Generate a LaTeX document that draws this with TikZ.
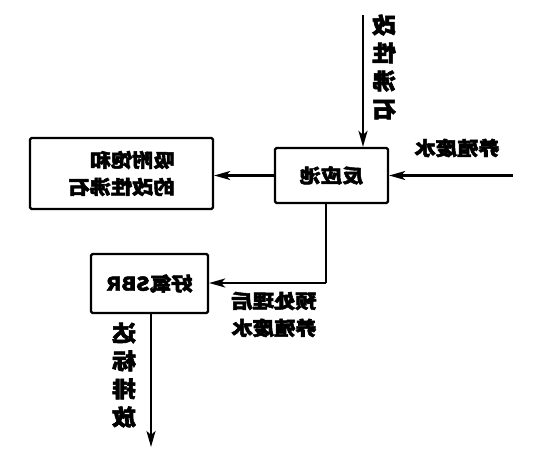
\documentclass[tikz,border=0pt]{standalone}
\usepackage{graphicx}
\usepackage{fontspec}
\newfontfamily\cjk[FakeBold=2.5]{Noto Sans CJK SC}
\usetikzlibrary{arrows.meta}
\newcommand{\mir}[1]{\scalebox{-1.12}[1]{#1}}
\newcommand{\mirv}[1]{\scalebox{-1.08}[1]{#1}}
\tikzset{
  box/.style={draw, line width=2.3pt, rounded corners=1.5pt, inner sep=0pt},
  arr/.style={line width=2.3pt, -{Stealth[length=16pt,width=9pt,inset=4pt]}},
  ln/.style={line width=2.3pt},
  lbl/.style={font=\cjk\bfseries\fontsize{19}{27}\selectfont, inner sep=0pt},
  vlbl/.style={font=\cjk\bfseries\fontsize{22}{28}\selectfont, inner sep=0pt, align=center},
}
\begin{document}
\begin{tikzpicture}[x=1pt,y=-1pt]
\useasboundingbox (0,0) rectangle (541,455);
\node[box, minimum width=113pt, minimum height=55pt, lbl] (react) at (331.5,175.5) {\mir{反应池}};
\node[box, minimum width=183pt, minimum height=71pt, lbl, align=right] (sat) at (121.5,173.5) {\mir{吸附饱和}\\\mir{的改性沸石}};
\node[box, minimum width=117pt, minimum height=59pt, lbl] (sbr) at (149.5,283.5) {\mir{好氧SBR}};
\coordinate (topin) at (363,15);
\coordinate (wastein) at (513,175.5);
\coordinate (turn) at (326,283);
\coordinate (out) at (151,447);
\draw[arr] (topin) -- (topin |- react.north);
\draw[arr] (wastein) -- (react.east);
\draw[arr] (react.west) -- (react.west -| sat.east);
\draw[ln] (react.south -| turn) -- (turn);
\draw[arr] (turn) -- (turn -| sbr.east);
\draw[arr] (sbr.south -| out) -- (out);
\node[vlbl] (tmod) at (384,67) {\mirv{改}\\\mirv{性}\\\mirv{沸}\\\mirv{石}};
\node[lbl] (twaste) at (457,148) {\mir{养殖废水}};
\node[lbl, align=center] (tpre) at (274,314.5) {\mir{预处理后}\\\mir{养殖废水}};
\node[vlbl] (tout) at (124,375) {\mirv{达}\\\mirv{标}\\\mirv{排}\\\mirv{放}};
\end{tikzpicture}
\end{document}
